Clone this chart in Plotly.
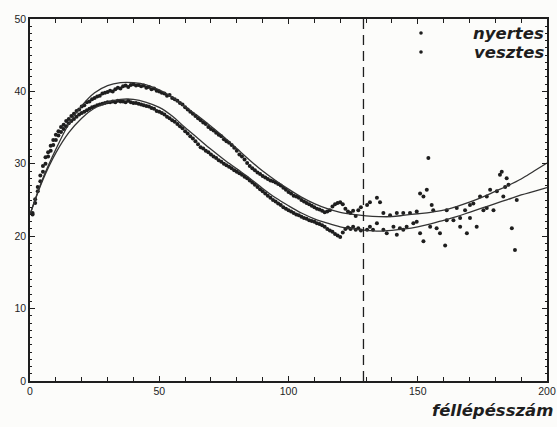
import plotly.graph_objects as go

# ---- data ----
x_dense = list(range(1, 129))
nyertes_dense = [
    23.0, 25.1, 26.8, 28.4, 29.7, 30.9, 31.6, 32.5, 33.3, 34.0,
    34.5, 35.1, 35.4, 35.9, 36.2, 36.6, 36.9, 37.3, 37.5, 37.9,
    38.1, 38.5, 38.6, 38.9, 39.1, 39.3, 39.4, 39.7, 39.8, 39.9,
    40.1, 40.0, 40.3, 40.5, 40.4, 40.7, 40.8, 40.6, 40.9, 41.0,
    40.8, 40.9, 40.7, 40.8, 40.5, 40.6, 40.3, 40.4, 40.1, 40.0,
    39.8, 39.7, 39.4, 39.5, 39.1, 38.9, 38.7, 38.4, 38.2, 37.8,
    37.5, 37.2, 36.9, 36.6, 36.3, 36.0, 35.7, 35.5, 35.1, 34.8,
    34.6, 34.3, 34.0, 33.8, 33.4, 33.1, 32.9, 32.6, 32.2, 31.8,
    31.3, 31.0, 30.6, 30.1, 29.7, 29.4, 29.1, 28.8, 28.6, 28.3,
    28.1, 27.9, 27.7, 27.6, 27.4, 27.2, 27.0, 26.7, 26.4, 26.1,
    25.9, 25.6, 25.5, 25.3, 25.0, 24.8, 24.6, 24.4, 24.2, 24.0,
    23.8, 23.7, 23.5, 23.3, 23.4, 23.6, 24.1, 24.4, 24.6, 24.7,
    24.4, 23.8, 23.4, 23.2, 23.5, 22.8, 23.6, 24.0,
]
vesztes_dense = [
    23.2, 24.6, 26.2, 27.6, 28.9, 30.0, 31.0, 31.8, 32.6, 33.3,
    33.9, 34.4, 34.8, 35.2, 35.6, 35.9, 36.2, 36.5, 36.8, 37.0,
    37.2, 37.4, 37.6, 37.8, 37.9, 38.1, 38.2, 38.3, 38.4, 38.5,
    38.5, 38.6, 38.5, 38.7, 38.6, 38.6, 38.5, 38.7, 38.5, 38.4,
    38.4, 38.3, 38.2, 38.1, 38.0, 37.9, 37.7, 37.6, 37.3, 37.2,
    37.0, 36.8, 36.5, 36.3, 36.0, 35.8, 35.5, 35.2, 34.9, 34.5,
    34.2, 33.8, 33.5, 33.1, 32.7, 32.3, 32.1, 31.8, 31.6, 31.3,
    31.0, 30.8, 30.5, 30.3, 30.0, 29.8, 29.6, 29.4, 29.1, 28.9,
    28.7, 28.5, 28.2, 28.0, 27.7, 27.4, 27.1, 26.8, 26.5, 26.2,
    25.9, 25.6, 25.3, 25.0, 24.8, 24.5, 24.3, 24.0, 23.8, 23.6,
    23.4, 23.2, 23.0, 22.9, 22.7, 22.5, 22.4, 22.2, 22.1, 22.0,
    21.8, 21.7, 21.5, 21.3, 21.0, 20.8, 20.6, 20.3, 20.1, 19.9,
    20.5, 21.0, 21.2, 21.0, 21.3, 20.9, 21.1, 20.8,
]

nyertes_sparse_x = [130.4, 131.5, 134.2, 135.4, 136.7, 139.3, 141.9, 144.4, 147.0, 149.6,
                    150.9, 152.2, 153.5, 154.1, 155.4, 156.0, 161.2, 165.1, 168.3, 170.2,
                    171.5, 174.1, 176.7, 178.0, 180.6, 181.8, 182.5, 183.1, 183.8, 184.4,
                    185.1, 188.3]
nyertes_sparse_y = [24.3, 24.7, 25.3, 24.7, 23.2, 22.9, 23.2, 23.2, 23.2, 23.4,
                    25.9, 25.5, 26.4, 30.8, 24.3, 23.6, 23.6, 23.9, 23.6, 24.3,
                    24.5, 25.5, 25.5, 26.4, 26.2, 28.5, 28.9, 25.5, 26.8, 28.0,
                    27.1, 25.0]

vesztes_sparse_x = [130.4, 131.5, 132.7, 134.2, 136.7, 138.0, 140.6, 141.9, 143.1, 144.4,
                    145.7, 148.3, 149.6, 150.9, 152.2, 154.8, 157.3, 158.6, 160.6, 161.2,
                    163.8, 166.4, 166.4, 169.0, 170.2, 172.8, 175.4, 176.7, 179.3, 186.4,
                    187.6]
vesztes_sparse_y = [20.9, 21.3, 20.9, 21.8, 20.9, 20.4, 21.3, 20.2, 21.1, 20.9,
                    21.3, 21.8, 22.0, 20.4, 19.3, 21.3, 21.1, 20.4, 18.7, 22.2,
                    22.2, 22.5, 21.3, 20.4, 22.5, 21.3, 23.6, 23.9, 23.6, 21.1,
                    18.1]

fit_x = [0, 5, 10, 15, 20, 25, 30, 35, 40, 45, 50, 55, 60, 65, 70, 75, 80, 85, 90, 95,
         100, 105, 110, 115, 120, 125, 130, 135, 140, 145, 150, 155, 160, 165, 170, 175,
         180, 185, 190, 195, 200]
fit_nyertes = [23.0, 28.0, 32.0, 35.5, 38.0, 39.8, 40.8, 41.2, 41.2, 40.9, 40.2, 39.2,
               37.9, 36.6, 35.2, 33.7, 32.1, 30.5, 29.0, 27.7, 26.5, 25.4, 24.5, 23.8,
               23.3, 23.0, 22.8, 22.7, 22.7, 22.9, 23.1, 23.3, 23.6, 24.1, 24.7, 25.4,
               26.2, 27.0, 27.9, 29.0, 30.1]
fit_vesztes = [23.0, 27.8, 31.5, 34.3, 36.3, 37.7, 38.5, 38.9, 38.9, 38.5, 37.8, 36.6,
               35.0, 33.5, 32.0, 30.6, 29.3, 28.0, 26.6, 25.3, 24.2, 23.2, 22.4, 21.8,
               21.3, 21.0, 20.8, 20.7, 20.8, 21.0, 21.3, 21.7, 22.2, 22.7, 23.3, 23.9,
               24.5, 25.1, 25.7, 26.2, 26.7]

dashed_x = 129
x_ticks = [0, 50, 100, 150, 200]
y_ticks = [0, 10, 20, 30, 40, 50]
legend_names = ["nyertes", "vesztes"]

ink = "#1e1e1e"
font_family = "Liberation Sans, Arial, sans-serif"
label_family = "DejaVu Sans, Liberation Sans, sans-serif"

L, R, T, B = 30, 10, 19, 46
W, H = 557, 427
pw, ph = W - L - R, H - T - B

fig = go.Figure()
for xs, ys in [(x_dense + nyertes_sparse_x, nyertes_dense + nyertes_sparse_y),
               (x_dense + vesztes_sparse_x, vesztes_dense + vesztes_sparse_y)]:
    fig.add_trace(go.Scatter(x=xs, y=ys, mode="markers",
                             marker=dict(size=4, color=ink), showlegend=False))
for ys in [fit_nyertes, fit_vesztes]:
    fig.add_trace(go.Scatter(x=fit_x, y=ys, mode="lines", line=dict(color="#333", width=1.3, shape="spline"),
                             showlegend=False))

fig.add_shape(type="line", x0=dashed_x, x1=dashed_x, y0=0, y1=50, xref="x", yref="y",
              line=dict(color=ink, width=1.3, dash="10px,6px"))

# legend drawn as text + dot
for i, name in enumerate(legend_names):
    ypix = 33 + i * 19
    yp = 1 - (ypix - T) / ph
    fig.add_annotation(x=(546 - L) / pw, y=yp, xref="paper", yref="paper", text=f"<b><i>{name}</i></b>",
                       showarrow=False, xanchor="right", yanchor="middle",
                       font=dict(size=16.5, color=ink, family=label_family))
    cx = (421 - L) / pw
    fig.add_shape(type="circle", xref="paper", yref="paper",
                  x0=cx - 1.8 / pw, x1=cx + 1.8 / pw, y0=yp - 1.8 / ph, y1=yp + 1.8 / ph,
                  fillcolor=ink, line=dict(width=0))

fig.add_annotation(x=(555 - L) / pw, y=-(410 - H + B) / ph, xref="paper", yref="paper",
                   text="<b><i>féllépésszám</i></b>", showarrow=False, xanchor="right", yanchor="middle",
                   font=dict(size=16.5, color=ink, family=label_family))

axis_common = dict(showline=True, linecolor=ink, linewidth=1.6, mirror="allticks",
                   showgrid=False, zeroline=False, ticks="inside", tickcolor=ink, automargin=False,
                   tickfont=dict(size=10.5, color=ink, family=font_family))
fig.update_xaxes(range=[0, 200], tickvals=x_ticks, ticklen=5, tickwidth=1.2,
                 minor=dict(dtick=10, ticks="inside", ticklen=4, tickcolor=ink, tickwidth=1.2),
                 **axis_common)
fig.update_yaxes(range=[0, 50], tickvals=y_ticks, ticklen=5, tickwidth=1.2,
                 minor=dict(dtick=1, ticks="inside", ticklen=2.5, tickcolor=ink, tickwidth=1),
                 **axis_common)

fig.update_layout(width=W, height=H, margin=dict(l=L, r=R, t=T, b=B),
                  paper_bgcolor="#fcfcfa", plot_bgcolor="#fcfcfa", showlegend=False)

fig.write_html("out.html")
